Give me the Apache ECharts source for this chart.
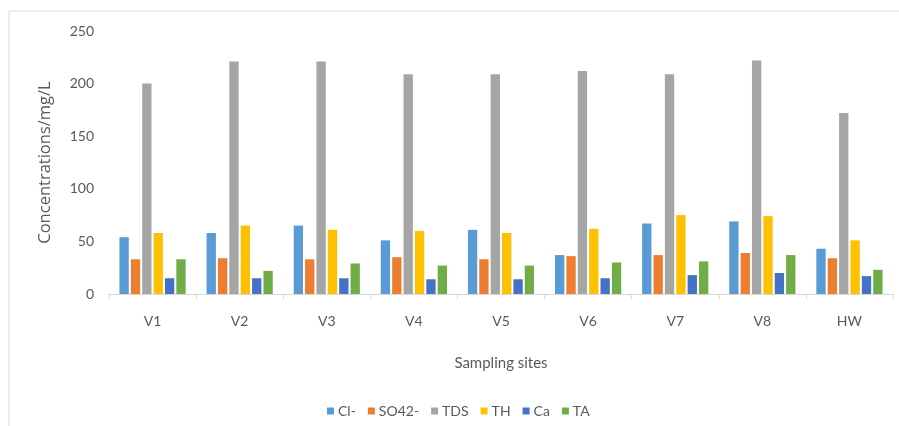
<!DOCTYPE html>
<html>
<head>
<meta charset="utf-8">
<script src="https://cdn.jsdelivr.net/npm/echarts@6/dist/echarts.min.js"></script>
<style>
html,body{margin:0;padding:0;background:#fff;}
#chart{width:899px;height:426px;}
</style>
</head>
<body>
<div id="chart"></div>
<script>
var categories = ['V1','V2','V3','V4','V5','V6','V7','V8','HW'];
var seriesNames = ['Cl-','SO42-','TDS','TH','Ca','TA'];
var clValues  = [54, 58, 65, 51, 61, 37, 67, 69, 43];
var so4Values = [33, 34, 33, 35, 33, 36, 37, 39, 34];
var tdsValues = [200, 221, 221, 209, 209, 212, 209, 222, 172];
var thValues  = [58, 65, 61, 60, 58, 62, 75, 74, 51];
var caValues  = [15, 15, 15, 14, 14, 15, 18, 20, 17];
var taValues  = [33, 22, 29, 27, 27, 30, 31, 37, 23];
var yTicks = [0, 50, 100, 150, 200, 250];
var colors = ['#5B9BD5','#ED7D31','#A5A5A5','#FFC000','#4472C4','#70AD47'];

var allValues = [clValues, so4Values, tdsValues, thValues, caValues, taValues];
var chart = echarts.init(document.getElementById('chart'));
var font = 'Lato';
var series = seriesNames.map(function(n, i){
  return {
    name: n,
    type: 'bar',
    data: allValues[i],
    barGap: '22%',
    barCategoryGap: '24%',
    itemStyle: {color: colors[i]}
  };
});
chart.setOption({
  animation: false,
  backgroundColor: '#fff',
  color: colors,
  graphic: [{
    type: 'rect',
    shape: {x: 9, y: 11, width: 900, height: 430},
    style: {fill: 'none', stroke: '#d9d9d9', lineWidth: 1},
    silent: true
  }],
  grid: {left: 109, right: 6, top: 31, bottom: 132, containLabel: false},
  legend: {
    data: seriesNames,
    left: 322, top: 399,
    icon: 'rect',
    itemWidth: 7, itemHeight: 7,
    itemGap: 12,
    textStyle: {color: '#595959', fontFamily: font, fontSize: 14, padding: [0,0,0,-1]}
  },
  xAxis: {
    type: 'category',
    data: categories,
    name: 'Sampling sites',
    nameLocation: 'middle',
    nameGap: 62,
    nameTextStyle: {color: '#595959', fontFamily: font, fontSize: 15},
    axisLine: {lineStyle: {color: '#d9d9d9', width: 1}},
    axisTick: {show: true, length: 5, lineStyle: {color: '#d9d9d9'}},
    axisLabel: {color: '#595959', fontFamily: font, fontSize: 14, margin: 20}
  },
  yAxis: {
    type: 'value',
    min: yTicks[0], max: yTicks[yTicks.length-1], interval: yTicks[1]-yTicks[0],
    name: 'Concentrations/mg/L',
    nameLocation: 'middle',
    nameGap: 55,
    nameTextStyle: {color: '#595959', fontFamily: 'Open Sans', fontSize: 16.5},
    axisLine: {show: false},
    axisTick: {show: false},
    splitLine: {show: false},
    axisLabel: {color: '#595959', fontFamily: font, fontSize: 14, margin: 15}
  },
  series: series
});
</script>
</body>
</html>
